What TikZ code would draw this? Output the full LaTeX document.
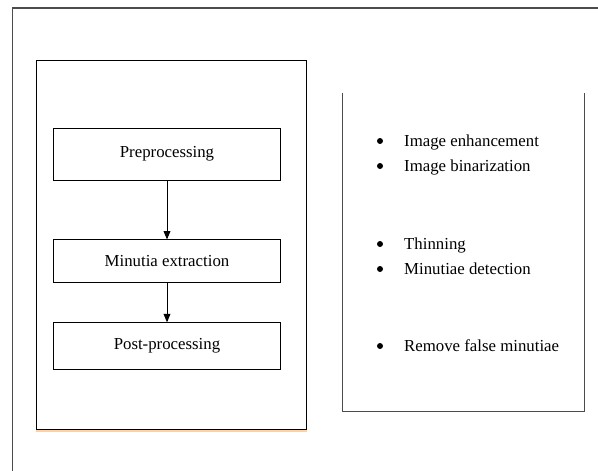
\documentclass[tikz,border=0pt]{standalone}
\usepackage{fontspec}
\setmainfont{Liberation Serif}
\usetikzlibrary{arrows,positioning}

\begin{document}
\begin{tikzpicture}[x=1pt,y=-1pt,->,>=triangle 45,node distance=40pt]
    \tikzstyle{box}=[rectangle, draw, line width=0.8pt, minimum width=227pt,
      font=\fontsize{16.8}{20}\selectfont]
    \tikzstyle{item}=[anchor=base west, inner sep=0pt,
      font=\fontsize{16.8}{20}\selectfont]
    \tikzstyle{rule}=[-, line width=1pt]

    \useasboundingbox (0,0) rectangle (598,471);

    % page frame
    \draw[rule, line width=1.5pt, gray!60!black] (12.5,471) -- (12.5,8) -- (598,8);

    % left panel
    \node[box, minimum width=270pt, minimum height=369pt] (steps) at (171.2,244.5) {};
    \draw[rule, line width=1.2pt, orange!35] ([yshift=-1.5pt]steps.south west) -- ([yshift=-1.5pt]steps.south east);

    \node[box, minimum height=52pt]    (pre) at (167,154) {Preprocessing};
    \node[box, minimum height=43pt]    (min) [below=59pt of pre] {Minutia extraction};
    \node[box, minimum height=47pt]    (post) [below=39pt of min] {Post-processing};

    \draw[line width=0.9pt] (pre) -- (min);
    \draw[line width=0.9pt] (min) -- (post);

    % right panel, open at the top
    \draw[rule, gray!60!black] (342.5,93) -- (342.5,411.5) -- (584,411.5) -- (584,93);

    \foreach \y/\t in {146/Image enhancement, 171/Image binarization,
                       249/Thinning, 274/Minutiae detection,
                       351/Remove false minutiae}{
      \fill (380,\y-5) circle (3pt);
      \node[item] at (404,\y) {\t};
    }

  \end{tikzpicture}
\end{document}
